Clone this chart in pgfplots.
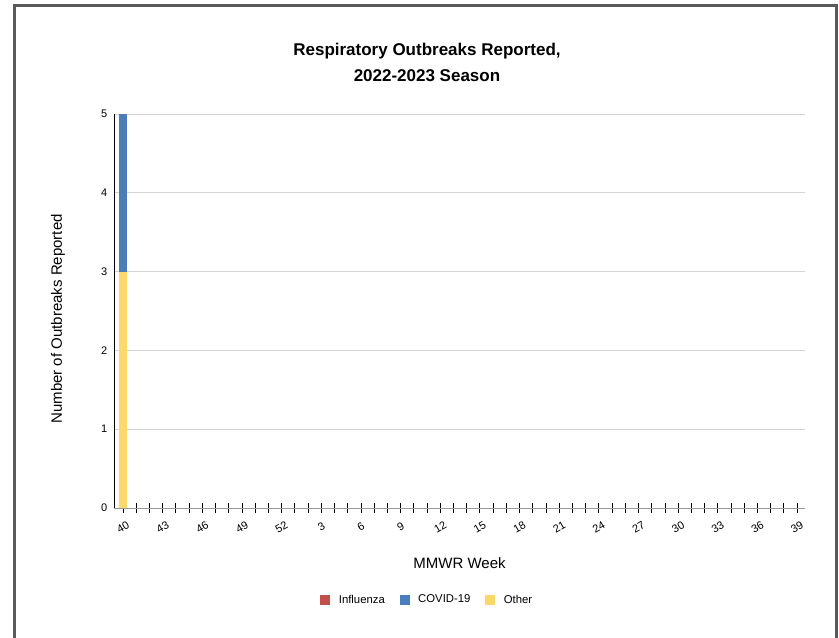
\documentclass[border=0pt]{standalone}
\usepackage{fontspec}
\setmainfont{Liberation Sans}
\usepackage{pgfplots}
\pgfplotsset{compat=1.18}

\definecolor{influ}{RGB}{192,80,77}
\definecolor{covid}{RGB}{74,126,187}
\definecolor{other}{RGB}{255,217,102}
\definecolor{framegray}{RGB}{90,90,90}
\definecolor{gridgray}{RGB}{212,212,212}

\begin{document}
\begin{tikzpicture}
\useasboundingbox (0,0) rectangle (629.25pt,478.5pt);
\draw[framegray, line width=2.25pt] (10.875pt,0pt) -- (10.875pt,474.375pt)
    -- (627.375pt,474.375pt) -- (627.375pt,0pt);

\node[font=\fontsize{12.75}{15}\selectfont\bfseries] at (320.25pt,440.25pt)
    {Respiratory Outbreaks Reported,};
\node[font=\fontsize{12.75}{15}\selectfont\bfseries] at (320.25pt,421.5pt)
    {2022-2023 Season};

\begin{axis}[
    at={(85.5pt,97.5pt)}, anchor=south west,
    scale only axis,
    width=518.25pt, height=295.5pt,
    ybar stacked,
    bar width=6pt,
    xmin=-0.68, xmax=51.6,
    ymin=0, ymax=5,
    ytick={0,1,2,3,4,5},
    xtick={0,3,...,51},
    xticklabels={40,43,46,49,52,3,6,9,12,15,18,21,24,27,30,33,36,39},
    minor xtick={0,...,51},
    axis x line*=bottom,
    axis y line*=left,
    x axis line style={-, draw=gray!80},
    y axis line style={-, draw=black},
    xtick pos=bottom,
    tick align=center,
    major tick length=7.5pt,
    minor tick length=7.5pt,
    x tick style={black, line width=0.6pt},
    minor x tick style={black, line width=0.6pt},
    y tick style={draw=none},
    ymajorgrids=true,
    grid style={gridgray, line width=0.6pt},
    /pgf/number format/assume math mode=true,
    tick label style={font=\fontsize{8.25}{10}\selectfont},
    xticklabel style={rotate=30, anchor=center, yshift=-9.1pt, xshift=-5.25pt},
    yticklabel style={xshift=2.25pt},
    xlabel={MMWR Week},
    ylabel={Number of Outbreaks Reported},
    label style={font=\fontsize{11.25}{13}\selectfont},
    xlabel style={at={(axis description cs:0.5,-0.1396)}, anchor=center},
    ylabel style={at={(axis description cs:-0.081,0.48)}, anchor=center},
    reverse legend,
    legend columns=3,
    legend style={at={(0.4537,-0.2335)}, anchor=center, draw=none,
        font=\fontsize{8.5}{10}\selectfont,
        /tikz/every odd column/.append style={column sep=4.5pt},
        /tikz/every even column/.append style={column sep=9pt}},
    legend image code/.code={\fill[#1] (0pt,-3.75pt) rectangle (7.5pt,3.75pt);},
]
\addplot[fill=other, draw=none] coordinates {(0,3)};
\addplot[fill=covid, draw=none] coordinates {(0,2)};
\addplot[fill=influ, draw=none] coordinates {(0,0)};
\legend{Other,COVID-19,Influenza}
\end{axis}
\end{tikzpicture}
\end{document}
